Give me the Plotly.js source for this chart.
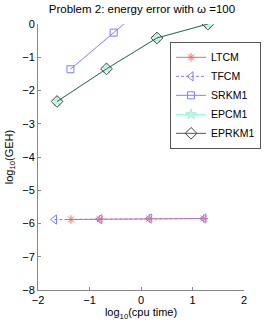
<!DOCTYPE html>
<html><head><meta charset="utf-8">
<script src="https://cdn.plot.ly/plotly-3.0.1.min.js"></script>
<style>body{margin:0;padding:0;background:#fff}#c{width:273px;height:327px}</style>
</head><body><div id="c"></div>
<script>
var ltcmX = [-1.36, -0.80, 0.16, 1.22];
var ltcmY = [-5.88, -5.87, -5.85, -5.85];
var tfcmX = [-1.68, -0.80, 0.16, 1.22];
var tfcmY = [-5.88, -5.87, -5.85, -5.85];
var srkmX = [-1.37, -0.53, 0.05];
var srkmY = [-1.36, -0.26, 0.5];
var epcmX = [-1.63, -0.67, 0.31, 1.30];
var epcmY = [-2.33, -1.35, -0.42, 0.0];
var eprkX = [-1.63, -0.67, 0.31, 1.30];
var eprkY = [-2.33, -1.35, -0.42, 0.0];
var xTicks = [-2, -1, 0, 1, 2];
var yTicks = [-8, -7, -6, -5, -4, -3, -2, -1, 0];

var font = "Liberation Sans, Arial, sans-serif";
var traces = [
  {x: ltcmX, y: ltcmY, name: 'LTCM', mode: 'lines+markers',
   line: {color: '#ff6666', width: 1}, marker: {symbol: 'asterisk-open', size: 7, color: '#ff6666', line: {width: 1, color: '#ff6666'}}},
  {x: tfcmX, y: tfcmY, name: 'TFCM', mode: 'lines+markers',
   line: {color: '#7f7fff', width: 1, dash: '3px,2px'}, marker: {symbol: 'triangle-left-open', size: 8, color: '#7f7fff', line: {width: 1}}},
  {x: srkmX, y: srkmY, name: 'SRKM1', mode: 'lines+markers',
   line: {color: '#7f7fff', width: 1}, marker: {symbol: 'square-open', size: 7, color: '#7f7fff', line: {width: 1}}},
  {x: epcmX, y: epcmY, name: 'EPCM1', mode: 'lines+markers',
   line: {color: '#7fffd4', width: 1}, marker: {symbol: 'star', size: 8, color: '#bff5e6', line: {width: 0.5, color: '#7fe5c8'}}},
  {x: eprkX, y: eprkY, name: 'EPRKM1', mode: 'lines+markers',
   line: {color: '#4a5f58', width: 1}, marker: {symbol: 'diamond-open', size: 9, color: '#404040', line: {width: 1}}}
];
var layout = {
  width: 273, height: 327,
  margin: {l: 38, r: 26, t: 24, b: 37},
  paper_bgcolor: '#fff', plot_bgcolor: '#fff',
  font: {family: font, size: 11, color: '#000'},
  showlegend: true,
  title: {text: 'Problem 2: energy error with ω =100', font: {size: 11.5, family: font}, x: 0.52, xanchor: 'center', y: 0.985, yanchor: 'top'},
  xaxis: {range: [-2, 2], tickvals: xTicks, ticktext: xTicks.map(function(v){return v<0?'\u2212'+(-v):''+v;}),
    showgrid: false, zeroline: false, showline: true, linecolor: '#888', linewidth: 1,
    ticks: 'inside', ticklen: 3, tickcolor: '#888', mirror: false,
    title: {text: 'log<sub>10</sub>(cpu time)', font: {size: 11}, standoff: 2}},
  yaxis: {range: [-8, 0], tickvals: yTicks, ticktext: yTicks.map(function(v){return v<0?'\u2212'+(-v):''+v;}),
    showgrid: false, zeroline: false, showline: true, linecolor: '#888', linewidth: 1,
    ticks: 'inside', ticklen: 3, tickcolor: '#888',
    title: {text: 'log<sub>10</sub>(GEH)', font: {size: 11}, standoff: 6}},
  legend: {x: 0.641, y: 0.933, xanchor: 'left', yanchor: 'top', bgcolor: '#fff',
    bordercolor: '#555', borderwidth: 1, font: {size: 10.5}, itemwidth: 30, tracegroupgap: 0}
};
Plotly.newPlot('c', traces, layout, {displayModeBar: false, staticPlot: true});
</script></body></html>
